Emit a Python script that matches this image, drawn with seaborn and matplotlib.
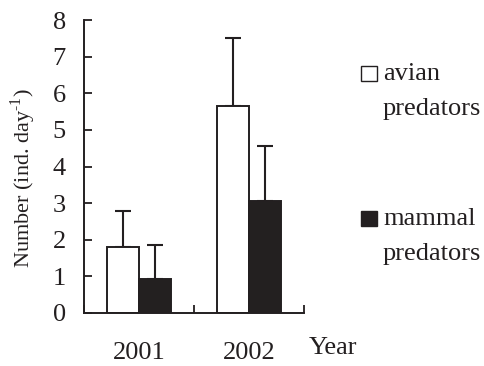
import matplotlib
matplotlib.use("Agg")
import matplotlib.pyplot as plt
import seaborn as sns
import pandas as pd
from matplotlib.patches import Rectangle
from matplotlib.ticker import FixedLocator

years = ["2001", "2002"]
groups = ["avian predators", "mammal predators"]
avian_mean = [1.80, 5.66]
avian_err = [0.99, 1.85]
mammal_mean = [0.93, 3.06]
mammal_err = [0.93, 1.50]

df = pd.DataFrame({
    "year": years * 2,
    "group": [groups[0]] * 2 + [groups[1]] * 2,
    "value": avian_mean + mammal_mean,
})
errs = avian_err + mammal_err

sns.set_style("white")
plt.rcParams["font.family"] = ["Liberation Serif", "DejaVu Serif"]
plt.rcParams["mathtext.fontset"] = "custom"
plt.rcParams["mathtext.rm"] = "Liberation Serif"

INK = "#231f20"
colors = ["white", INK]
W, H = 485, 366
fig = plt.figure(figsize=(W / 100, H / 100), dpi=100)
ax = fig.add_axes([0.173, 0.145, 0.454, 0.80])

sns.barplot(data=df, x="year", y="value", hue="group", hue_order=groups,
            palette=colors, edgecolor=INK, linewidth=1.4,
            width=0.575, gap=0, errorbar=None, legend=False, ax=ax)

# upward-only error bars, placed on the drawn bars
bars = [p for p in ax.patches if p.get_height() > 0][:4]
for p, e in zip(bars, errs):
    cx = p.get_x() + p.get_width() / 2
    ax.errorbar(cx, p.get_height(), yerr=[[0], [e]], fmt="none",
                ecolor=INK, elinewidth=1.5, capsize=5.5, capthick=1.5,
                zorder=0)

ax.set_xlim(-0.5, 1.5)
ax.set_ylim(0, 8)
ax.set_yticks(range(0, 9))
ax.xaxis.set_minor_locator(FixedLocator([-0.5, 0.5, 1.5]))
ax.tick_params(axis="x", which="major", length=0, pad=21, labelsize=19,
               labelcolor=INK)
ax.tick_params(axis="x", which="minor", direction="in", length=6, width=1.3,
               color=INK, bottom=True)
ax.tick_params(axis="y", direction="in", length=6, width=1.3, pad=13,
               labelsize=19, color=INK, labelcolor=INK, left=True)
for s in ["top", "right"]:
    ax.spines[s].set_visible(False)
for s in ["left", "bottom"]:
    ax.spines[s].set_color(INK)
    ax.spines[s].set_linewidth(1.4)

ax.set_xlabel("")
ax.set_ylabel(r"Number (ind. day$^{\mathrm{\text{-}1}}$)", fontsize=16,
              color=INK)
ax.yaxis.set_label_coords(-0.21, 0.46)
ax.text(1.02, -0.12, "Year", transform=ax.transAxes, fontsize=19,
        ha="left", va="center", color=INK)

# key: a square swatch beside a two-line label for each group
def px(x, y):
    return x / W, 1 - y / H

for i, (name, col) in enumerate(zip(groups, colors)):
    top = 66 + i * 145
    x0, y0 = px(361, top + 15)
    fig.patches.append(Rectangle((x0, y0), 16 / W, 15 / H, facecolor=col,
                                 edgecolor=INK, linewidth=1.0,
                                 transform=fig.transFigure))
    for j, word in enumerate(name.split(" ")):
        tx, ty = px(383, top + 14 + j * 35)
        fig.text(tx, ty, word, fontsize=19, color=INK, ha="left",
                 va="baseline")

fig.savefig("out.png", dpi=100)
